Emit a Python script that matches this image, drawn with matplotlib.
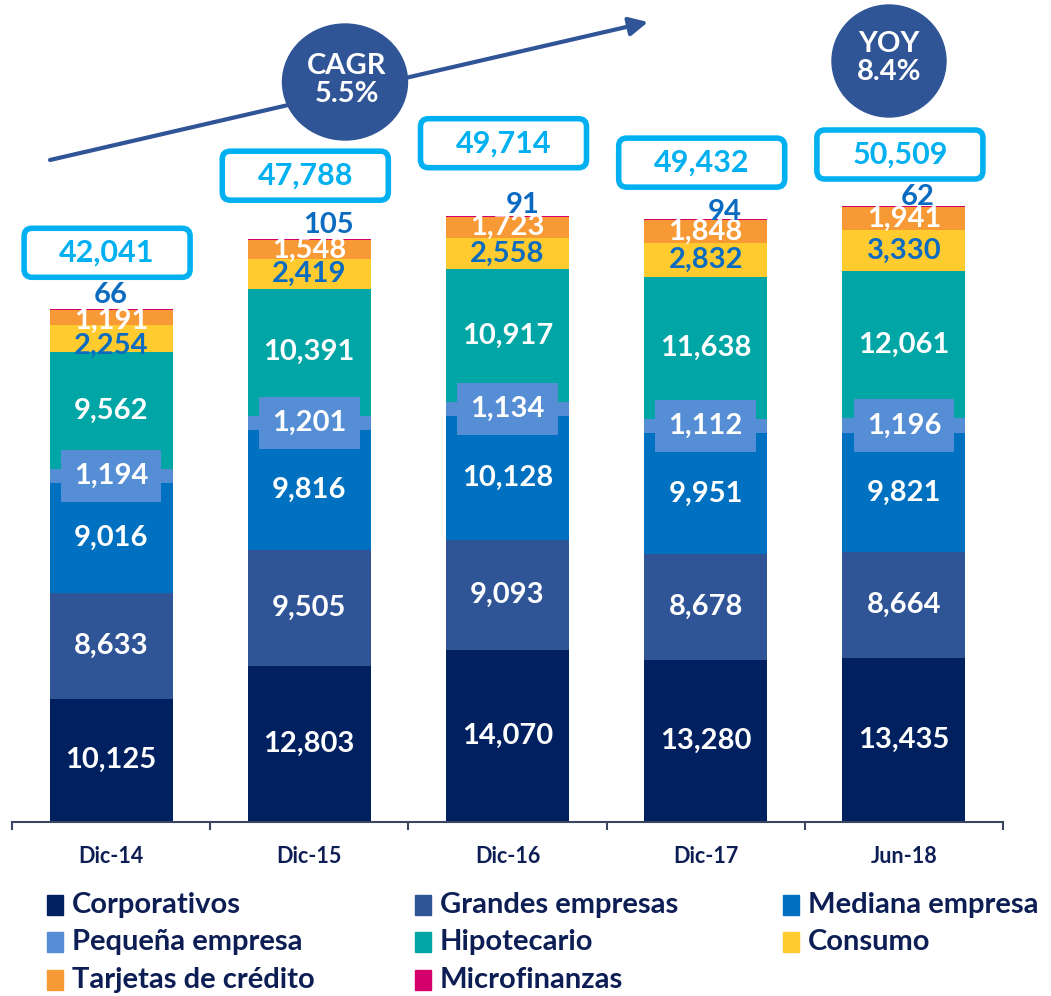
import matplotlib
matplotlib.use("Agg")
import matplotlib.pyplot as plt
from matplotlib.patches import Ellipse, FancyBboxPatch, Rectangle
import numpy as np

plt.rcParams['font.family'] = ['Lato', 'DejaVu Sans']
plt.rcParams['font.weight'] = 'bold'

# ---- data ----
periods = ["Dic-14", "Dic-15", "Dic-16", "Dic-17", "Jun-18"]
segments = ["Corporativos", "Grandes empresas", "Mediana empresa", "Pequeña empresa",
            "Hipotecario", "Consumo", "Tarjetas de crédito", "Microfinanzas"]
corporativos = [10125, 12803, 14070, 13280, 13435]
grandes = [8633, 9505, 9093, 8678, 8664]
mediana = [9016, 9816, 10128, 9951, 9821]
pequena = [1194, 1201, 1134, 1112, 1196]
hipotecario = [9562, 10391, 10917, 11638, 12061]
consumo = [2254, 2419, 2558, 2832, 3330]
tarjetas = [1191, 1548, 1723, 1848, 1941]
microfinanzas = [66, 105, 91, 94, 62]
totals = [42041, 47788, 49714, 49432, 50509]
cagr_text = "CAGR\n5.5%"
yoy_text = "YOY\n8.4%"

series = [corporativos, grandes, mediana, pequena, hipotecario, consumo, tarjetas, microfinanzas]
colors = ["#002060", "#2F5597", "#0070C0", "#558ED5", "#00A5A5", "#FFCB2F", "#F79A35", "#D6006B"]
label_colors = ["white", "white", "white", "white", "white", "#0A6BC0", "white", None]
navy = "#0D1E55"
cyan = "#00B0F0"
circle_blue = "#2F5597"

# small vertical nudges (px, down positive) for crowded labels in the first bar
nudge = {("Consumo", 0): 8, ("Tarjetas de crédito", 0): 4}

W, H = 1051, 996
fig = plt.figure(figsize=(W / 100, H / 100), dpi=100)
ax = fig.add_axes([12 / W, 174 / H, 991 / W, 822 / H])

x = np.arange(len(periods))
bottom = np.zeros(len(periods))
for name, vals, col, lcol in zip(segments, series, colors, label_colors):
    ax.bar(x, vals, bottom=bottom, width=0.62, color=col, edgecolor="none", label=name, zorder=2)
    if lcol is not None:
        for i, v in enumerate(vals):
            yc = bottom[i] + v / 2
            dy = -nudge.get((name, i), 0) * 0.72
            kw = dict(xy=(x[i], yc), xytext=(0, dy), textcoords="offset points",
                      ha="center", va="center", color=lcol, fontsize=21,
                      fontweight="bold", zorder=4)
            if name == "Pequeña empresa":
                kw["bbox"] = dict(boxstyle="square,pad=0.45", fc=col, ec="none")
            ax.annotate(f"{v:,}", **kw)
    bottom += np.array(vals)

# microfinanzas values above the bars
micro_dx = [0, 19, 15, 19, 14]
micro_dy = [14, 14, 11, 7, 9]
for i, v in enumerate(microfinanzas):
    ax.annotate(f"{v}", xy=(x[i], bottom[i]), xytext=(micro_dx[i] * 0.72, micro_dy[i] * 0.72),
                textcoords="offset points", ha="center", va="center", color="#0A6BC0",
                fontsize=21, fontweight="bold", zorder=4)

ax.set_xlim(-0.5, 4.5)
ax.set_ylim(0, 67400)
for s in ["top", "left", "right"]:
    ax.spines[s].set_visible(False)
ax.spines["bottom"].set_color("#3A4660")
ax.spines["bottom"].set_linewidth(1.5)
ax.set_yticks([])
ax.set_xticks(x)
ax.set_xticklabels(periods, fontsize=15.5, fontweight="bold", color=navy)
ax.tick_params(axis="x", which="major", length=0, pad=17)
ax.set_xticks(np.arange(-0.5, 5, 1), minor=True)
ax.tick_params(axis="x", which="minor", length=6, width=1.5, color="#3A4660")
ax.patch.set_alpha(0)

# overlay in figure pixel coordinates (y down)
ov = fig.add_axes([0, 0, 1, 1], zorder=5)
ov.set_xlim(0, W)
ov.set_ylim(H, 0)
ov.axis("off")
ov.patch.set_alpha(0)

fig.canvas.draw()
to_ov = ov.transData.inverted()

# total boxes
box_gap = [32, 39, 48, 32, 27]
box_w, box_h = 166, 49
for i, t in enumerate(totals):
    px, py = to_ov.transform(ax.transData.transform((x[i], t)))
    px -= 4
    cy = py - box_gap[i] - box_h / 2
    ov.add_patch(FancyBboxPatch((px - box_w / 2 + 8, cy - box_h / 2 + 8), box_w - 16, box_h - 16,
                                boxstyle="round,pad=8", fc="white", ec=cyan, lw=4))
    ov.text(px, cy, f"{t:,}", ha="center", va="center", color=cyan, fontsize=22, fontweight="bold")

# CAGR arrow and circles
ov.annotate("", xy=(648, 22), xytext=(50, 160),
            arrowprops=dict(arrowstyle="-|>", color=circle_blue, lw=3, mutation_scale=28,
                            shrinkA=0, shrinkB=0))
ov.add_patch(Ellipse((345, 82), 125, 116, color=circle_blue, zorder=3))
ov.text(347, 80, cagr_text, ha="center", va="center", color="white", fontsize=21,
        fontweight="bold", linespacing=1.1, zorder=4)
ov.add_patch(Ellipse((889, 61), 114, 112, color=circle_blue, zorder=3))
ov.text(889, 58, yoy_text, ha="center", va="center", color="white", fontsize=21,
        fontweight="bold", linespacing=1.1, zorder=4)

# legend, row-major in 3 columns
col_x = [47, 415, 783]
row_y = [905, 942, 980]
for k, (name, col) in enumerate(zip(segments, colors)):
    cx = col_x[k % 3]
    cy = row_y[k // 3]
    ov.add_patch(Rectangle((cx, cy - 10), 16, 20, color=col))
    ov.text(cx + 25, cy, name, ha="left", va="center", color=navy, fontsize=21, fontweight="bold")

fig.savefig("out.png", dpi=100)
